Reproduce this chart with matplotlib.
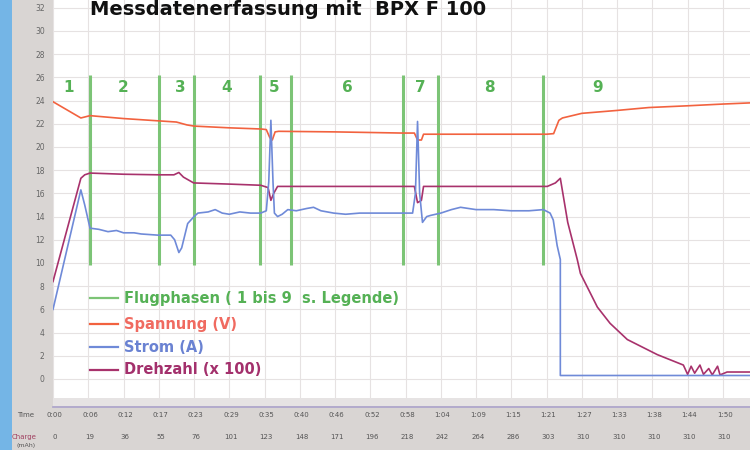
import matplotlib
matplotlib.use("Agg")
import matplotlib.pyplot as plt
from matplotlib.patches import Rectangle
from matplotlib.transforms import blended_transform_factory

# ---------------- data (x in time-tick units) ----------------
time_labels = ["0:00", "0:06", "0:12", "0:17", "0:23", "0:29", "0:35", "0:40", "0:46", "0:52",
               "0:58", "1:04", "1:09", "1:15", "1:21", "1:27", "1:33", "1:38", "1:44", "1:50"]
charge_labels = ["0", "19", "36", "55", "76", "101", "123", "148", "171", "196",
                 "218", "242", "264", "286", "303", "310", "310", "310", "310", "310"]

phase_bounds = [1.05, 3.0, 3.99, 5.86, 6.74, 9.92, 10.91, 13.91]
phase_names = ["1", "2", "3", "4", "5", "6", "7", "8", "9"]
phase_label_x = [0.45, 1.98, 3.6, 4.93, 6.26, 8.36, 10.42, 12.38, 15.44]

volt_x = [0, 0.79, 1.05, 2.0, 3.0, 3.5, 3.8, 4.0, 5.0, 5.9, 6.05, 6.15, 6.22, 6.3, 6.4, 8.0,
          9.9, 10.25, 10.34, 10.45, 10.51, 12.0, 14.0, 14.2, 14.35, 14.45, 15.0, 16.0, 16.9,
          18.0, 19.0, 19.77]
volt_y = [23.9, 22.5, 22.7, 22.45, 22.25, 22.15, 21.9, 21.8, 21.65, 21.55, 21.5, 20.8, 20.6,
          21.3, 21.35, 21.3, 21.2, 21.2, 20.6, 20.6, 21.1, 21.1, 21.1, 21.15, 22.3, 22.5, 22.9,
          23.15, 23.4, 23.55, 23.7, 23.8]

rpm_x = [0, 0.79, 0.9, 1.05, 2.0, 3.0, 3.43, 3.57, 3.7, 3.99, 5.0, 5.89, 6.1, 6.18, 6.26, 6.37,
         8.0, 10.25, 10.34, 10.45, 10.51, 14.02, 14.25, 14.39, 14.6, 14.87, 14.96, 15.44, 15.8,
         16.29, 17.14, 17.88, 18.0, 18.1, 18.2, 18.35, 18.45, 18.6, 18.7, 18.85, 18.92, 19.12,
         19.77]
rpm_y = [8.4, 17.3, 17.6, 17.75, 17.65, 17.6, 17.6, 17.8, 17.4, 16.9, 16.8, 16.7, 16.5, 15.4,
         16.0, 16.6, 16.6, 16.6, 15.2, 15.4, 16.6, 16.6, 16.9, 17.3, 13.5, 10.3, 9.1, 6.2, 4.8,
         3.4, 2.1, 1.2, 0.4, 1.1, 0.5, 1.2, 0.4, 0.9, 0.35, 1.1, 0.35, 0.6, 0.6]

amp_x = [0, 0.79, 0.9, 1.05, 1.3, 1.56, 1.8, 2.0, 2.3, 2.5, 2.97, 3.34, 3.45, 3.57, 3.65, 3.82,
         4.0, 4.11, 4.4, 4.6, 4.8, 5.0, 5.3, 5.6, 5.89, 6.05, 6.12, 6.18, 6.24, 6.28, 6.37, 6.5,
         6.66, 6.9, 7.2, 7.39, 7.6, 7.96, 8.3, 8.7, 9.29, 9.9, 10.2, 10.28, 10.34, 10.4, 10.48,
         10.6, 10.71, 11.0, 11.3, 11.56, 12.0, 12.5, 13.0, 13.5, 13.91, 14.1, 14.19, 14.3,
         14.39, 14.39, 19.77]
amp_y = [6.0, 16.3, 15.0, 13.0, 12.9, 12.7, 12.8, 12.6, 12.6, 12.5, 12.4, 12.4, 12.0, 10.9,
         11.3, 13.4, 14.0, 14.3, 14.4, 14.6, 14.3, 14.2, 14.4, 14.3, 14.3, 14.5, 17.0, 22.3, 17.0,
         14.3, 14.0, 14.2, 14.6, 14.5, 14.7, 14.8, 14.5, 14.3, 14.2, 14.3, 14.3, 14.3, 14.3, 16.0,
         22.2, 16.0, 13.5, 14.0, 14.1, 14.3, 14.6, 14.8, 14.6, 14.6, 14.5, 14.5, 14.6, 14.3,
         13.7, 11.5, 10.3, 0.3, 0.3]

legend_labels = ["Flugphasen ( 1 bis 9  s. Legende)", "Spannung (V)", "Strom (A)", "Drehzahl (x 100)"]

# ---------------- styles ----------------
C_GREEN = "#7cc476"
C_GREEN_TXT = "#55b155"
C_VOLT = "#f2623f"
C_AMP = "#6f8ad8"
C_RPM = "#a8326c"
C_PANEL = "#d9d5d3"
C_BLUE = "#74b5e6"
C_GRID = "#e6e2e2"

W, H = 750, 450
fig = plt.figure(figsize=(7.5, 4.5), dpi=100)
fig.patch.set_facecolor(C_PANEL)
fig.patches.append(Rectangle((0, 0), 12 / W, 1, transform=fig.transFigure,
                             facecolor=C_BLUE, edgecolor="none", zorder=0))
# scrollbar strip
fig.patches.append(Rectangle((53 / W, 1 - 408 / H), (W - 53) / W, 10 / H, transform=fig.transFigure,
                             facecolor="#e6e3e3", edgecolor="none", zorder=0))
fig.add_artist(plt.Line2D([53 / W, 1], [1 - 407 / H, 1 - 407 / H], transform=fig.transFigure,
                          color="#a9a0c8", lw=1.2))

ax = fig.add_axes([53 / W, 52 / H, (W - 53) / W, 398 / H])
ax.set_facecolor("white")
ax.set_xlim(0, 19.77)
ax.set_ylim(-1.64, 32.67)
for s in ax.spines.values():
    s.set_visible(False)

ax.set_xticks(range(len(time_labels)))
ax.set_xticklabels([])
ax.set_yticks(range(0, 33, 2))
ax.set_yticklabels([str(v) for v in range(0, 33, 2)], fontsize=5.5, color="#666666")
ax.tick_params(axis="both", length=0, pad=6)
ax.grid(True, color=C_GRID, lw=0.8)
ax.set_axisbelow(True)

# phase lines & labels
ax.vlines(phase_bounds, 9.8, 26.2, color=C_GREEN, lw=2.2, zorder=2)
for name, px in zip(phase_names, phase_label_x):
    ax.text(px, 25.1, name, color=C_GREEN_TXT, fontsize=11, fontweight="bold",
            ha="center", va="center", zorder=3)

ax.plot(volt_x, volt_y, color=C_VOLT, lw=1.2, zorder=4)
ax.plot(rpm_x, rpm_y, color=C_RPM, lw=1.2, zorder=4)
ax.plot(amp_x, amp_y, color=C_AMP, lw=1.2, zorder=5)

# legend (manual)
leg_colors = [C_GREEN, C_VOLT, C_AMP, C_RPM]
leg_txt_colors = [C_GREEN_TXT, "#f06a60", "#6a82d2", "#a3306c"]
leg_y_px = [298, 324, 347, 370]
for lab, lc, tc, yp in zip(legend_labels, leg_colors, leg_txt_colors, leg_y_px):
    yf = 1 - yp / H
    fig.add_artist(plt.Line2D([90 / W, 118 / W], [yf, yf], transform=fig.transFigure,
                              color=lc, lw=1.6, zorder=6))
    fig.text(124 / W, yf, lab, color=tc, fontsize=10.5, fontweight="bold",
             ha="left", va="center", zorder=6)

# title at the top edge
fig.text(90 / W, 1 - 15 / H, "Messdatenerfassung mit  BPX F 100", color="#111111",
         fontsize=14, fontweight="bold", ha="left", va="baseline")

# bottom rows
tr = blended_transform_factory(ax.transData, fig.transFigure)
for i, (tl, cl) in enumerate(zip(time_labels, charge_labels)):
    ax.text(i + 0.05, 1 - 415 / H, tl, transform=tr, fontsize=5, color="#555555",
            ha="center", va="center", clip_on=False)
    ax.text(i + 0.05, 1 - 437 / H, cl, transform=tr, fontsize=5, color="#555555",
            ha="center", va="center", clip_on=False)
fig.text(26 / W, 1 - 415 / H, "Time", fontsize=5, color="#555555", ha="center", va="center")
fig.text(24 / W, 1 - 437 / H, "Charge", fontsize=5, color="#a04060", ha="center", va="center")
fig.text(26 / W, 1 - 446 / H, "(mAh)", fontsize=4.5, color="#555555", ha="center", va="center")

fig.savefig("out.png", dpi=100, facecolor=fig.get_facecolor())
